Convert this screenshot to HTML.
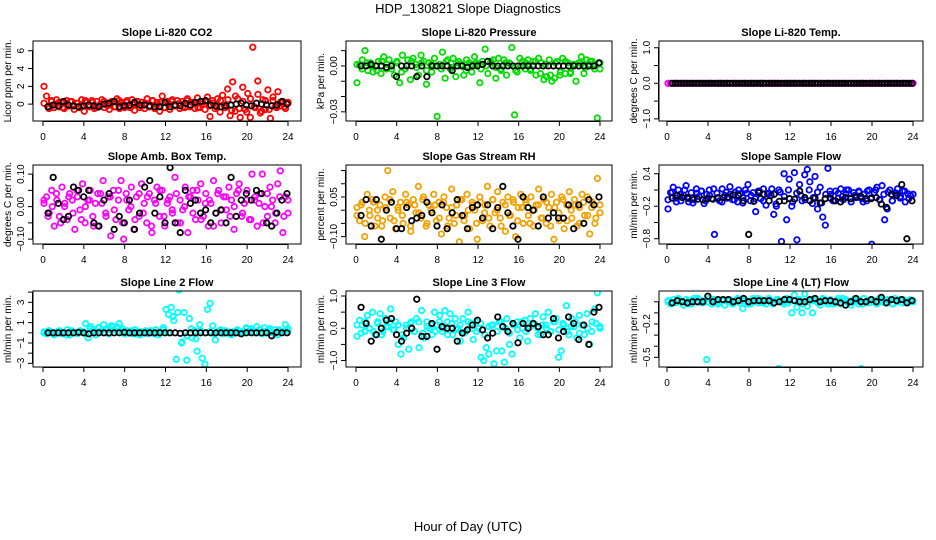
<!DOCTYPE html>
<html><head><meta charset="utf-8"><style>
html,body{margin:0;padding:0;background:#fff;}
svg{display:block;font-family:"Liberation Sans",Arial,sans-serif;}
</style></head><body>
<svg id="chart" width="936" height="540" viewBox="0 0 936 540" xmlns="http://www.w3.org/2000/svg">
<text x="468" y="13" text-anchor="middle" font-size="13">HDP_130821  Slope Diagnostics</text>
<text x="468" y="531" text-anchor="middle" font-size="13">Hour of Day (UTC)</text>
</svg>
<script>
// ---- data (colored = all samples, black = hourly averages) ----
const xTicks = [0,4,8,12,16,20,24];
const co2Vals = [2.0,0.9,-0.5,0.3,-0.4,0.5,-0.3,0.2,-0.5,0.4,-0.2,0.3,-0.6,0.1,-0.4,0.5,-0.8,0.2,-0.3,0.4,-0.5,0.3,-0.2,0.5,-0.4,0.1,-0.6,0.3,-0.3,0.6,-0.5,0.2,-0.4,0.4,-0.2,0.5,-0.7,0.3,-0.4,0.2,-0.5,0.6,-0.3,0.4,-0.5,0.2,-0.8,0.9,-0.4,0.3,-0.6,0.5,-0.2,0.4,-0.5,0.3,-0.4,0.6,-0.3,0.2,-0.5,0.7,-0.4,0.3,-0.6,0.8,-1.4,0.4,-0.5,0.6,-0.9,1.0,-0.4,1.7,-1.3,2.5,-0.8,0.6,-1.5,1.9,-0.6,1.2,-1.5,6.4,-0.4,2.6,-1.0,0.5,-0.6,1.6,-1.6,0.4,-0.3,1.4,-0.2,0.3,-0.5,0.2];
const co2ValsB = [0.1,-0.3,0.4,-0.1,0.2,-0.4,0.0,0.3,-0.2,0.1,-0.3,0.4,-0.1,0.2,-0.4,0.0,0.3,-0.2,0.1,-0.3,0.4,-0.1,0.2,-0.4,0.0,0.3,-0.2,0.1,-0.3,0.4,-0.1,0.2,-0.4,0.0,0.3,-0.2,0.1,-0.3,0.4,-0.1,0.2,-0.4,0.0,0.3,-0.2,0.1,-0.3,0.4,-0.1,0.5,-0.7,0.9,-0.5,0.3,-0.9,0.6,-0.3,1.1,-0.8,0.4,-0.6,0.8,-0.4,0.2,-0.3,0.1];
const co2Avg = [-0.3,-0.1,-0.2,0.3,-0.1,-0.2,-0.3,-0.2,-0.1,-0.2,-0.3,0.0,0.1,0.3,-0.3,-0.2,-0.1,0.2,-0.1,-0.1,-0.2,-0.3,-0.3,0.2,-0.3,-0.1,-0.2,0.1,-0.1,0.2,0.3,0.4,-0.1,-0.2,-0.3,-0.2,-0.1,0.0,0.1,-0.1,-0.2,0.1,0.0,-0.1,-0.2,-0.1,0.3,0.0];
const presVals = [-0.011,0.001,0.004,0.010,-0.003,0.002,-0.004,0.000,0.003,-0.005,0.006,-0.002,0.004,0.001,-0.006,0.003,-0.011,0.007,-0.002,0.004,-0.009,0.005,0.001,-0.006,0.007,0.003,-0.012,0.002,-0.004,0.005,-0.033,0.001,0.009,-0.008,0.004,-0.002,0.005,-0.007,0.003,0.001,-0.006,0.004,0.002,-0.004,0.006,0.001,-0.011,0.003,0.011,-0.005,0.002,0.004,-0.008,0.005,-0.003,0.004,-0.006,0.002,0.012,-0.032,-0.004,0.005,0.003,-0.002,0.004,-0.003,0.003,-0.006,0.005,0.002,-0.009,-0.007,0.004,-0.010,-0.008,0.003,-0.006,0.005,-0.005,0.002,-0.004,0.001,-0.010,0.002,0.006,-0.005,0.004,0.001,0.003,-0.002,-0.034,0.002];
const presValsB = [0.001,-0.002,0.002,0.000,-0.003,0.003,0.001,-0.002,0.002,-0.004,0.000,0.003,-0.001,0.002,-0.003,0.001,0.000,-0.002,0.003,-0.001,0.002,0.000,-0.003,0.001,0.002,-0.002,0.000,0.003,-0.001,-0.002,0.002,0.001,-0.003,0.000,0.002,-0.002,0.003,-0.005,0.001,-0.006,0.002,-0.004,0.003,-0.005,0.001,0.002,-0.001,0.003,0.000,-0.002];
const presAvg = [0.0,0.0,0.001,0.0,0.0,-0.001,0.0,-0.007,0.0,0.0,0.0,-0.007,0.0,-0.007,0.0,0.0,0.0,0.0,-0.003,0.0,0.0,-0.001,0.0,0.0,0.001,0.003,0.0,0.0,0.0,0.0,0.0,0.0,0.0,0.0,0.0,0.0,0.0,0.0,0.0,0.0,0.0,0.0,0.0,0.0,0.0,0.0,0.0,0.002];
const tempVals = [0,0,0,0,0,0,0,0,0,0,0,0,0,0,0,0,0,0,0,0,0,0,0,0,0,0,0,0,0,0,0,0,0,0,0,0,0,0,0,0,0,0,0,0,0,0,0,0,0,0,0,0,0,0,0,0,0,0,0,0,0,0,0,0,0,0,0,0,0,0,0,0,0,0,0,0,0,0,0,0,0,0,0,0,0,0,0,0,0,0,0,0,0,0,0,0];
const tempValsB = [0,0,0,0,0,0,0,0,0,0,0,0,0,0,0,0,0,0,0,0,0,0,0,0,0,0,0,0,0,0];
const tempAvg = [0,0,0,0,0,0,0,0,0,0,0,0,0,0,0,0,0,0,0,0,0,0,0,0,0,0,0,0,0,0,0,0,0,0,0,0,0,0,0,0,0,0,0,0,0,0,0,0,0,0,0,0,0,0,0,0,0,0,0,0,0,0,0,0,0,0,0,0,0,0,0,0,0,0,0,0,0,0,0,0];
const ambVals = [0.01,0.03,-0.02,0.05,-0.06,0.02,-0.03,0.06,0.00,-0.04,0.04,0.02,-0.07,0.03,-0.01,0.07,-0.05,0.02,0.05,-0.03,0.01,-0.06,0.04,0.08,-0.02,0.03,-0.09,0.05,-0.04,0.02,0.08,-0.10,0.04,-0.01,0.06,-0.07,0.03,-0.03,0.07,0.01,-0.05,0.04,-0.08,0.02,0.06,-0.03,0.05,-0.06,0.01,0.03,-0.02,0.09,-0.05,0.02,-0.01,0.06,-0.08,0.03,0.05,-0.04,0.02,0.07,-0.03,0.04,-0.06,0.01,0.08,-0.02,0.05,-0.05,0.03,-0.01,0.06,0.02,-0.07,0.04,0.07,-0.03,0.01,0.05,-0.04,0.10,0.02,-0.06,0.04,0.10,0.00,-0.03,0.06,0.02,-0.05,0.07,0.11,-0.08,0.03,-0.02];
const ambValsB = [0.02,-0.03,0.00,0.04,-0.05,0.01,0.03,-0.02,0.05,-0.04,0.00,0.02,-0.06,0.04,0.01,-0.03,0.03,-0.01,0.05,-0.05,0.02,0.00,-0.04,0.04,-0.02,0.03,-0.06,0.01,0.05,-0.03,0.02,-0.01,0.04,-0.05,0.00,0.03,-0.02,0.05,-0.04,0.01,0.02,-0.06,0.04,-0.01,0.03,-0.03,0.00,0.05,-0.02,0.02,-0.04,0.03,0.01,-0.05,0.04,0.00,-0.02,0.03,-0.03,0.02];
const ambAvg = [-0.02,0.09,0.01,-0.04,-0.03,0.06,0.05,0.03,0.05,-0.05,-0.06,0.02,0.04,-0.07,-0.03,-0.05,0.02,-0.07,-0.02,0.06,0.08,-0.02,0.03,-0.05,0.12,-0.05,-0.08,0.05,0.01,0.02,-0.02,-0.01,-0.05,-0.02,-0.01,-0.05,0.09,-0.03,0.02,0.04,0.02,0.05,0.04,-0.05,-0.06,-0.02,0.02,0.04];
const rhVals = [0.01,-0.04,0.03,-0.10,0.06,-0.02,0.04,-0.06,0.00,0.02,-0.04,0.05,0.15,-0.03,0.07,-0.07,0.01,0.03,-0.05,0.06,0.02,-0.08,0.04,-0.01,0.09,-0.03,0.05,-0.06,0.02,0.00,0.06,-0.04,0.03,-0.09,0.05,0.01,-0.03,0.08,-0.05,0.02,-0.12,0.04,-0.02,0.06,-0.07,0.03,0.00,-0.11,0.05,-0.04,0.02,0.09,-0.06,0.04,-0.01,0.07,-0.03,0.03,-0.08,0.05,-0.02,0.04,-0.10,0.01,0.06,-0.05,0.03,-0.02,0.05,-0.06,0.02,0.08,-0.03,0.04,-0.05,0.01,0.06,-0.11,0.03,-0.04,0.05,-0.07,0.02,0.07,-0.03,0.04,-0.06,0.01,0.06,-0.02,0.05,-0.09,0.03,-0.05,0.12,-0.01];
const rhValsB = [-0.02,0.02,-0.05,0.00,0.03,-0.03,-0.06,0.01,0.04,-0.04,0.00,-0.02,0.03,-0.06,0.02,-0.01,0.04,-0.05,0.00,0.02,-0.03,0.03,-0.06,0.01,-0.02,0.04,-0.04,0.00,0.02,-0.05,0.03,-0.01,-0.03,0.04,0.00,-0.06,0.02,-0.02,0.03,-0.04,0.01,0.04,-0.05,0.00,0.02,-0.03,0.03,-0.06,0.01,-0.01,0.04,-0.04,0.00,0.02,-0.05,0.03,-0.02,0.01,-0.03,0.02];
const rhAvg = [-0.02,0.04,-0.06,0.04,-0.11,0.00,0.03,-0.07,-0.07,0.01,-0.04,-0.03,-0.02,0.03,-0.01,-0.06,0.02,-0.07,-0.01,0.04,-0.02,-0.07,0.01,0.02,-0.03,0.02,-0.07,0.01,0.09,-0.01,-0.06,-0.11,0.05,0.01,0.00,-0.06,0.05,-0.03,-0.01,-0.03,-0.03,0.02,-0.07,0.02,-0.05,0.04,0.02,0.05];
const sfVals = [-0.25,0.05,0.15,-0.05,0.10,-0.10,0.00,0.18,-0.12,0.05,-0.08,0.12,-0.02,0.08,-0.15,0.02,0.10,-0.06,-0.72,0.04,-0.10,0.12,0.00,-0.05,0.16,-0.08,0.06,-0.12,0.03,-0.04,0.10,0.20,-0.10,0.05,-0.30,0.08,-0.06,0.12,-0.18,0.04,0.00,-0.35,-0.20,0.10,-0.85,0.40,-0.45,0.30,-0.20,0.42,-0.82,0.20,-0.10,0.38,0.48,0.25,-0.15,0.35,-0.25,0.15,-0.40,-0.55,0.50,0.02,-0.10,0.08,-0.05,0.12,-0.08,0.03,0.10,-0.12,0.05,-0.04,0.08,-0.06,0.02,-0.10,0.10,-0.90,0.05,0.15,-0.08,0.18,-0.45,-0.25,0.10,-0.10,0.05,0.12,-0.05,0.08,-0.12,0.03,0.00,0.02];
const sfValsB = [-0.08,0.06,-0.12,0.02,0.10,-0.06,-0.14,0.04,0.08,-0.10,0.00,0.12,-0.04,-0.12,0.06,0.02,-0.08,0.10,-0.14,0.04,0.00,-0.06,0.08,-0.10,0.02,0.12,-0.16,0.06,-0.02,0.10,-0.12,0.04,0.00,-0.08,0.10,-0.04,0.06,-0.14,0.02,0.08,-0.10,0.04,-0.02,0.10,-0.06,0.00,0.06,-0.12,0.08,-0.04,0.10,-0.08,0.02,0.06,-0.10,0.04,-0.02,0.08,-0.06,0.02];
const sfAvg = [-0.05,0.0,-0.04,-0.04,-0.05,-0.07,-0.08,-0.06,-0.07,-0.05,-0.04,-0.03,0.01,0.00,-0.1,-0.72,-0.11,0.05,0.02,-0.1,0.02,-0.11,-0.1,-0.06,-0.07,0.08,-0.04,-0.1,-0.05,-0.14,-0.06,-0.05,-0.1,-0.12,-0.04,-0.06,-0.03,-0.02,-0.06,-0.06,-0.04,-0.16,-0.22,0.02,0.0,0.2,-0.8,-0.1];
const l2Vals = [0.1,-0.1,0.2,0.0,-0.2,0.1,0.2,-0.1,0.0,0.3,-0.2,0.1,0.0,-0.1,0.2,0.1,0.9,-0.5,0.6,0.3,-0.2,0.5,0.2,0.8,0.4,-0.1,0.7,0.3,0.6,0.9,0.2,-0.1,0.2,0.0,-0.1,0.3,0.1,-0.2,0.0,0.2,-0.1,0.1,0.0,0.3,-0.2,0.1,0.5,2.3,1.8,2.5,1.2,-2.6,4.2,-1.0,2.0,-2.7,1.4,-0.5,0.2,-1.8,0.8,-2.5,-3.1,2.3,2.9,0.7,-0.7,0.1,0.3,-0.1,0.2,0.0,-0.2,0.1,0.2,0.0,-0.1,0.1,0.5,0.2,0.4,0.0,0.6,0.3,-0.1,0.5,0.2,0.4,0.0,0.3,-0.2,0.2,0.1,0.8,0.2];
const l2ValsB = [0.0,0.2,-0.1,0.1,0.0,-0.2,0.2,0.0,0.1,-0.1,0.4,0.2,0.5,0.0,0.3,0.6,0.1,0.4,0.0,0.2,-0.1,0.1,0.0,0.2,-0.1,0.1,0.3,0.0,1.6,2.0,-0.9,-0.3,0.4,-0.6,0.2,0.0,0.1,-0.1,0.2,0.0,0.1,-0.1,0.3,0.1,0.4,0.2,0.0,0.3,0.1,0.2,-0.1,0.3,0.1,0.4];
const l2Avg = [0,0,0,0,0,0,0.05,0,-0.1,0,0,0,0,0,0,0.05,0,0,0,0,0,0,0,0,0,0,-0.05,0,0,0,0,0,0,0,0,0,0,0,-0.1,0,0,0,0,0,-0.3,0.05,0,0];
const l3Vals = [-0.25,0.25,0.1,-0.1,0.4,0.0,0.5,-0.2,0.2,0.45,-0.1,0.3,0.05,0.6,-0.05,0.2,-0.5,-0.8,-0.3,0.1,-0.65,0.2,-0.1,0.3,-0.6,0.55,-0.3,0.2,0.0,-0.2,0.5,0.1,0.4,-0.1,0.55,0.2,0.45,-0.2,0.3,0.0,-0.4,0.3,-0.1,0.5,0.15,-0.35,0.2,0.0,-0.9,-1.0,-0.6,-0.8,0.1,-1.1,-0.7,0.2,-0.7,-1.05,0.3,-0.5,-0.8,0.1,0.2,-0.3,0.0,0.25,-0.4,0.3,0.1,0.45,0.0,-0.2,0.35,0.1,0.5,-0.1,0.2,0.3,-0.9,-0.7,0.1,0.7,-0.2,0.3,0.05,-0.3,0.4,0.1,-0.2,0.45,-0.5,0.2,0.6,1.1,0.0];
const l3ValsB = [0.1,-0.15,0.2,0.0,-0.1,0.15,-0.2,0.05,0.2,-0.05,0.1,-0.2,0.0,0.15,-0.1,0.2,-0.15,0.05,0.1,-0.1,0.2,0.0,-0.2,0.15,-0.05,0.1,-0.15,0.2,0.0,-0.1,0.15,-0.2,0.05,0.1,-0.1,0.2,0.0,-0.15,0.1,-0.05,0.2,-0.1,0.05,0.15,-0.2,0.1,0.0,-0.1,0.2,-0.05,0.15,-0.1,0.05,0.2,-0.15,0.1,0.0,-0.1,0.15,0.05];
const l3Avg = [0.65,0.15,-0.4,-0.2,0.0,0.25,0.3,-0.2,-0.4,-0.15,0.0,0.9,-0.25,-0.25,0.15,-0.65,0.05,0.0,0.0,-0.4,-0.15,-0.05,0.1,0.25,-0.05,-0.3,-0.15,0.35,0.05,-0.1,0.15,-0.45,0.15,0.0,0.15,0.05,-0.2,-0.2,0.3,-0.3,-0.1,0.35,0.15,-0.35,0.1,-0.5,0.5,0.65];
const l4Vals = [0.0,-0.02,0.02,-0.01,0.03,0.0,-0.03,0.02,0.01,-0.02,0.03,0.0,0.02,-0.01,0.01,-0.52,0.03,-0.02,0.02,0.0,-0.01,0.02,-0.03,0.01,0.02,-0.02,0.0,0.03,-0.01,-0.06,0.02,0.0,-0.02,0.03,0.01,-0.01,0.02,0.0,-0.02,0.03,0.01,-0.01,0.02,-0.60,0.0,-0.02,0.03,0.01,-0.1,0.06,-0.05,0.02,-0.1,0.07,-0.04,0.01,-0.1,0.02,0.0,-0.03,0.03,0.01,-0.02,0.02,0.0,-0.01,0.03,-0.02,0.01,0.02,0.0,-0.03,0.02,0.01,-0.02,-0.6,0.03,0.0,-0.01,0.02,0.01,-0.02,0.03,0.0,-0.01,0.02,0.01,-0.02,0.03,0.0,0.02,-0.01,0.01,0.0,0.02,0.0];
const l4ValsB = [0.01,-0.01,0.02,0.0,-0.02,0.01,0.03,-0.01,0.0,0.02,-0.02,0.01,0.0,-0.01,0.02,0.01,-0.02,0.0,0.03,-0.01,0.01,-0.02,0.02,0.0,-0.01,0.01,0.02,-0.02,0.0,0.01,-0.01,0.02,0.0,-0.02,0.01,0.03,-0.01,0.0,0.02,-0.02,0.01,0.0,-0.01,0.02,0.01,-0.02,0.0,0.02,-0.01,0.01];
const l4Avg = [-0.01,0.01,0.0,-0.01,0.0,0.0,0.0,0.05,0.0,0.02,0.02,0.02,0.0,0.01,0.03,0.0,0.01,0.01,0.01,0.01,-0.01,0.0,0.02,0.02,0.01,0.0,0.0,0.02,0.03,0.0,0.01,0.01,0.0,-0.01,-0.03,0.0,0.03,0.0,0.0,0.02,0.0,0.04,-0.01,0.02,0.01,0.02,-0.01,0.01];

// ---- layout ----
const svg = document.getElementById('chart');
const NS = 'http://www.w3.org/2000/svg';
const cols = [{l:33,r:301,x0:43,x24:288},{l:346,r:612,x0:356,x24:600},{l:659,r:923,x0:667,x24:913}];
const rows = [{t:41,b:121},{t:165,b:244},{t:291,b:367}];

const panels = [
 {id:'co2',title:'Slope Li-820 CO2',ylab:'Licor ppm per min.',col:0,row:0,ymin:-1.9,ymax:7.1,vals:co2Vals,valsB:co2ValsB,avg:co2Avg,color:'#ff0000',yt:[0,2,4,6],yl:['0','2','4','6']},
 {id:'pressure',title:'Slope Li-820 Pressure',ylab:'kPa per min.',col:1,row:0,ymin:-0.036,ymax:0.0163,vals:presVals,valsB:presValsB,avg:presAvg,color:'#00dd00',yt:[-0.03,-0.02,-0.01,0,0.01],yl:['\u22120.03','','','0.00','']},
 {id:'temp',title:'Slope Li-820 Temp.',ylab:'degrees C per min.',col:2,row:0,ymin:-1.06,ymax:1.19,vals:tempVals,valsB:tempValsB,avg:tempAvg,color:'#ff00ff',yt:[-1,-0.5,0,0.5,1],yl:['\u22121.0','','0.0','','1.0']},
 {id:'amb-box-temp',title:'Slope Amb. Box Temp.',ylab:'degrees C per min.',col:0,row:1,ymin:-0.115,ymax:0.128,vals:ambVals,valsB:ambValsB,avg:ambAvg,color:'#ff00ff',yt:[-0.1,-0.05,0,0.05,0.1],yl:['\u22120.10','','0.00','','0.10']},
 {id:'gas-rh',title:'Slope Gas Stream RH',ylab:'percent per min.',col:1,row:1,ymin:-0.128,ymax:0.171,vals:rhVals,valsB:rhValsB,avg:rhAvg,color:'#f4a000',yt:[-0.1,-0.05,0,0.05,0.1,0.15],yl:['\u22120.10','','','0.05','','']},
 {id:'sample-flow',title:'Slope Sample Flow',ylab:'ml/min per min.',col:2,row:1,ymin:-0.897,ymax:0.561,vals:sfVals,valsB:sfValsB,avg:sfAvg,color:'#0000ff',yt:[-0.8,-0.5,-0.2,0.1,0.4],yl:['\u22120.8','','\u22120.2','','0.4']},
 {id:'line2-flow',title:'Slope Line 2 Flow',ylab:'ml/min per min.',col:0,row:2,ymin:-3.36,ymax:4.11,vals:l2Vals,valsB:l2ValsB,avg:l2Avg,color:'#00ffff',yt:[-3,-2,-1,0,1,2,3,4],yl:['\u22123','','\u22121','','1','','3','']},
 {id:'line3-flow',title:'Slope Line 3 Flow',ylab:'ml/min per min.',col:1,row:2,ymin:-1.2,ymax:1.155,vals:l3Vals,valsB:l3ValsB,avg:l3Avg,color:'#00ffff',yt:[-1,-0.5,0,0.5,1],yl:['\u22121.0','','0.0','','1.0']},
 {id:'line4-flow',title:'Slope Line 4 (LT) Flow',ylab:'ml/min per min.',col:2,row:2,ymin:-0.587,ymax:0.097,vals:l4Vals,valsB:l4ValsB,avg:l4Avg,color:'#00ffff',yt:[-0.5,-0.4,-0.3,-0.2,-0.1,0,0.1],yl:['\u22120.5','','','\u22120.2','','','0.1']}
];

function mk(tag, attrs, parent){
  const e = document.createElementNS(NS, tag);
  for (const k in attrs) e.setAttribute(k, attrs[k]);
  (parent||svg).appendChild(e);
  return e;
}

panels.forEach(p => {
  const c = cols[p.col], r = rows[p.row];
  const xs = h => c.x0 + (c.x24 - c.x0) * h / 24;
  const ys = v => r.b - (v - p.ymin) / (p.ymax - p.ymin) * (r.b - r.t);
  const g = mk('g', {});
  
  

  const title = mk('text', {x:(c.l+c.r)/2, y:r.t-5, 'text-anchor':'middle', 'font-size':'11', 'font-weight':'bold'}, g);
  
  
  title.textContent = p.title;

  const clipId = 'clip-' + p.id;
  const cp = mk('clipPath', {id:clipId}, g);
  mk('rect', {x:c.l, y:r.t, width:c.r-c.l, height:r.b-r.t}, cp);
  const pts = mk('g', {'clip-path':'url(#'+clipId+')'}, g);
  
  
  [p.valsB, p.vals].forEach(arr => {
    const n = arr.length;
    arr.forEach((v, i) => {
      const h = 0.1 + i * 23.9 / (n - 1);
      const ci = mk('circle', {cx:xs(h), cy:ys(v), r:2.7, fill:'none', stroke:p.color, 'stroke-width':1.8}, pts);
      
      
    });
  });
  const m = p.avg.length;
  p.avg.forEach((v, i) => {
    const h = 0.5 + i * 23.4 / (m - 1);
    const ci = mk('circle', {cx:xs(h), cy:ys(v), r:2.7, fill:'none', stroke:'#000', 'stroke-width':1.8}, pts);
    
    
  });

  const box = mk('rect', {x:c.l, y:r.t, width:c.r-c.l, height:r.b-r.t, fill:'none', stroke:'#000', 'stroke-width':1}, g);
  
  

  const xa = mk('g', {}, g);
  
  
  mk('line', {x1:xs(0), x2:xs(24), y1:r.b+0.5, y2:r.b+0.5, stroke:'#000'}, xa);
  xTicks.forEach(t => {
    mk('line', {x1:xs(t), x2:xs(t), y1:r.b, y2:r.b+5, stroke:'#000'}, xa);
    const tl = mk('text', {x:xs(t), y:r.b+19, 'text-anchor':'middle', 'font-size':'10'}, xa);
    
    
    tl.textContent = String(t);
  });

  const ya = mk('g', {}, g);
  
  
  const yIn = p.yt.filter(t => t >= p.ymin && t <= p.ymax);
  mk('line', {x1:c.l-0.5, x2:c.l-0.5, y1:ys(yIn[0]), y2:ys(yIn[yIn.length-1]), stroke:'#000'}, ya);
  p.yt.forEach((t, i) => {
    if (t < p.ymin || t > p.ymax) return;
    const y = ys(t);
    mk('line', {x1:c.l-5, x2:c.l, y1:y, y2:y, stroke:'#000'}, ya);
    if (p.yl[i]) {
      const tl = mk('text', {x:c.l-9, y:y, 'text-anchor':'middle', 'font-size':'10', transform:'rotate(-90 '+(c.l-9)+' '+y+')'}, ya);
      
      
      tl.textContent = p.yl[i];
    }
  });
  const ymid = (r.t + r.b) / 2;
  const yt = mk('text', {x:c.l-22, y:ymid, 'text-anchor':'middle', 'font-size':'10', transform:'rotate(-90 '+(c.l-22)+' '+ymid+')'}, g);
  
  
  yt.textContent = p.ylab;
});
</script>
</body></html>
